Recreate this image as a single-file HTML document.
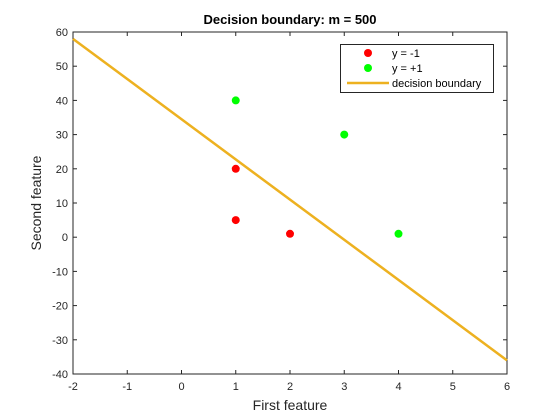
<!DOCTYPE html>
<html><head><meta charset="utf-8"><style>
html,body{margin:0;padding:0;background:#fff;}
svg{display:block;font-family:"Liberation Sans",sans-serif;}
</style></head><body>
<svg id="chart" width="560" height="420">
<rect width="560" height="420" fill="#fff"/>
<rect x="73" y="32" width="434" height="342" fill="#fff" stroke="#262626" stroke-width="1"/>
<g id="ticks"></g>
<g id="marks"></g>
<text x="290" y="24" text-anchor="middle" font-size="13" font-weight="bold">Decision boundary: m = 500</text>
<text x="290" y="410" text-anchor="middle" font-size="14" fill="#262626">First feature</text>
<text transform="translate(41,203) rotate(-90)" text-anchor="middle" font-size="14" fill="#262626">Second feature</text>
<g>
<rect x="340.5" y="44.5" width="153" height="48" fill="#fff" stroke="#262626" stroke-width="1"/>
<circle cx="368" cy="53" r="4" fill="#ff0000"/>
<text x="392" y="57" font-size="11">y = -1</text>
<circle cx="368" cy="68" r="4" fill="#00ff00"/>
<text x="392" y="72" font-size="11">y = +1</text>
<line x1="347" y1="83" x2="389" y2="83" stroke="#edb120" stroke-width="2.5"/>
<text x="392" y="87" font-size="11">decision boundary</text>
</g>
</svg>
<script>
const xTicks=[-2,-1,0,1,2,3,4,5,6];
const yTicks=[-40,-30,-20,-10,0,10,20,30,40,50,60];
const negX=[1,1,2];
const negY=[20,5,1];
const posX=[1,3,4];
const posY=[40,30,1];
const lineX=[-2,6];
const lineY=[58,-36];
const NS="http://www.w3.org/2000/svg";
const sx=v=>73+(v+2)*434/8;
const sy=v=>374-(v+40)*342/100;
function mk(t,a,p){const e=document.createElementNS(NS,t);for(const k in a)e.setAttribute(k,a[k]);p.appendChild(e);return e;}
const tg=document.getElementById('ticks'),mg=document.getElementById('marks');
xTicks.forEach(v=>{const x=sx(v);
 let l=mk('line',{x1:x,y1:374,x2:x,y2:370,stroke:'#262626'},tg);
 
 
 let l2=mk('line',{x1:x,y1:32,x2:x,y2:36,stroke:'#262626'},tg);
 
 
 let t=mk('text',{x:x,y:390,'text-anchor':'middle','font-size':11,fill:'#262626'},tg);t.textContent=v;
 
 });
yTicks.forEach(v=>{const y=sy(v);
 let l=mk('line',{x1:73,y1:y,x2:77,y2:y,stroke:'#262626'},tg);
 
 
 let l2=mk('line',{x1:507,y1:y,x2:503,y2:y,stroke:'#262626'},tg);
 
 
 let t=mk('text',{x:68,y:y+4,'text-anchor':'end','font-size':11,fill:'#262626'},tg);t.textContent=v;
 
 });
let ln=mk('line',{x1:sx(lineX[0]),y1:sy(lineY[0]),x2:sx(lineX[1]),y2:sy(lineY[1]),stroke:'#edb120','stroke-width':2.5},mg);


negX.forEach((x,i)=>{let c=mk('circle',{cx:sx(x),cy:sy(negY[i]),r:4,fill:'#ff0000'},mg);
 
 });
posX.forEach((x,i)=>{let c=mk('circle',{cx:sx(x),cy:sy(posY[i]),r:4,fill:'#00ff00'},mg);
 
 });
</script>
</body></html>
